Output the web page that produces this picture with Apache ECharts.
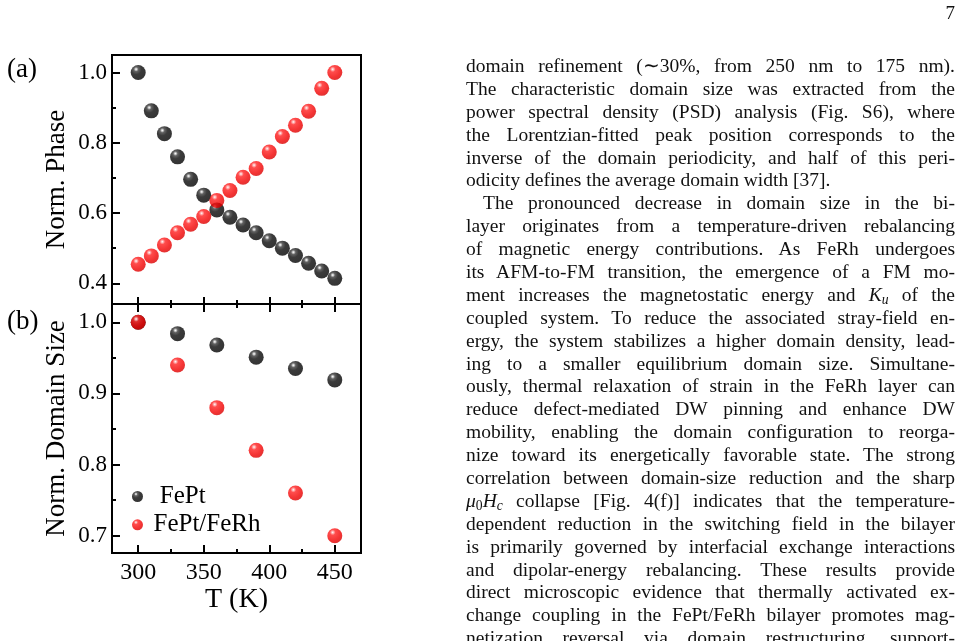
<!DOCTYPE html>
<html>
<head>
<meta charset="utf-8">
<script src="https://cdn.jsdelivr.net/npm/echarts@6.0.0/dist/echarts.min.js"></script>
<style>
  html, body { margin: 0; padding: 0; background: #fff; }
  body { width: 961px; height: 641px; overflow: hidden; position: relative; }
  #chart { position: absolute; left: 0; top: 0; width: 961px; height: 641px; }
  #text {
    position: absolute; left: 466px; top: 55px; width: 489px;
    font-family: 'Liberation Serif', serif; font-size: 19.5px; line-height: 22.9px; color: #111;
  }
  #text .l { height: 22.9px; text-align: justify; text-align-last: justify; white-space: nowrap; }
  #text .l.end { text-align-last: left; }
  #text .l.ind { text-indent: 17px; }
  #text sub { font-size: 0.7em; line-height: 0; vertical-align: -0.25em; }
  #page { position: absolute; right: 6px; top: 2px; font-family: 'Liberation Serif', serif; font-size: 19px; color: #111; }
</style>
</head>
<body>
<div id="chart"></div>
<div id="page">7</div>
<div id="text">
  <div class="l">domain refinement (∼30%, from 250 nm to 175 nm).</div>
  <div class="l">The characteristic domain size was extracted from the</div>
  <div class="l">power spectral density (PSD) analysis (Fig. S6), where</div>
  <div class="l">the Lorentzian-fitted peak position corresponds to the</div>
  <div class="l">inverse of the domain periodicity, and half of this peri-</div>
  <div class="l end">odicity defines the average domain width [37].</div>
  <div class="l ind">The pronounced decrease in domain size in the bi-</div>
  <div class="l">layer originates from a temperature-driven rebalancing</div>
  <div class="l">of magnetic energy contributions. As FeRh undergoes</div>
  <div class="l">its AFM-to-FM transition, the emergence of a FM mo-</div>
  <div class="l">ment increases the magnetostatic energy and <i>K<sub>u</sub></i> of the</div>
  <div class="l">coupled system. To reduce the associated stray-field en-</div>
  <div class="l">ergy, the system stabilizes a higher domain density, lead-</div>
  <div class="l">ing to a smaller equilibrium domain size. Simultane-</div>
  <div class="l">ously, thermal relaxation of strain in the FeRh layer can</div>
  <div class="l">reduce defect-mediated DW pinning and enhance DW</div>
  <div class="l">mobility, enabling the domain configuration to reorga-</div>
  <div class="l">nize toward its energetically favorable state. The strong</div>
  <div class="l">correlation between domain-size reduction and the sharp</div>
  <div class="l"><i>μ</i><sub>0</sub><i>H<sub>c</sub></i> collapse [Fig. 4(f)] indicates that the temperature-</div>
  <div class="l">dependent reduction in the switching field in the bilayer</div>
  <div class="l">is primarily governed by interfacial exchange interactions</div>
  <div class="l">and dipolar-energy rebalancing. These results provide</div>
  <div class="l">direct microscopic evidence that thermally activated ex-</div>
  <div class="l">change coupling in the FePt/FeRh bilayer promotes mag-</div>
  <div class="l">netization reversal via domain restructuring, support-</div>
</div>
<script>
// panel (a): normalized phase vs T
const tempA = [300, 310, 320, 330, 340, 350, 360, 370, 380, 390, 400, 410, 420, 430, 440, 450]
const phaseFePt = [1.0, 0.891, 0.826, 0.760, 0.696, 0.651, 0.609, 0.588, 0.566, 0.544, 0.521, 0.500, 0.479, 0.457, 0.435, 0.414]
const phaseBilayer = [0.454, 0.478, 0.509, 0.544, 0.568, 0.590, 0.636, 0.664, 0.702, 0.727, 0.774, 0.818, 0.850, 0.890, 0.955, 1.0]

// panel (b): normalized domain size vs T
const tempB = [300, 330, 360, 390, 420, 450]
const sizeFePt = [1.0, 0.984, 0.968, 0.951, 0.935, 0.919]
const sizeBilayer = [1.0, 0.940, 0.880, 0.820, 0.760, 0.700]

// ticks
const xMajor = [300, 350, 400, 450]
const xMinor = [325, 375, 425]
const yMajorA = [0.4, 0.6, 0.8, 1.0]
const yMinorA = [0.5, 0.7, 0.9]
const yMajorB = [0.7, 0.8, 0.9, 1.0]
const yMinorB = [0.75, 0.85, 0.95]

const font = 'Liberation Serif'

// glossy ball look: small highlight at upper left
const ball = (stops) => ({
  type: 'radial', x: 0.36, y: 0.28, r: 0.78,
  colorStops: stops.map(s => ({ offset: s[0], color: s[1] }))
})
const blackBall = ball([[0, '#ffffff'], [0.07, '#c8c8c8'], [0.2, '#3a3a3a'], [0.45, '#0a0a0a'], [1, '#000']])
const redBall = ball([[0, '#ffffff'], [0.08, '#ffb0b0'], [0.24, '#ff2020'], [0.7, '#f00000'], [1, '#d40000']])

const hiddenAxisParts = {
  axisLine: { show: false },
  splitLine: { show: false }
}

function xAxisDef(gridIndex, position, ticks, len, withLabel) {
  return Object.assign({
    type: 'value', gridIndex, position, min: 280, max: 470,
    axisTick: { show: true, inside: true, length: len, customValues: ticks, lineStyle: { color: '#000', width: 2 } },
    axisLabel: withLabel
      ? { show: true, customValues: ticks, margin: 8, fontFamily: font, fontSize: 24, color: '#000' }
      : { show: false }
  }, hiddenAxisParts)
}

function yAxisDef(gridIndex, min, max, ticks, len, withLabel, name) {
  return Object.assign({
    type: 'value', gridIndex, position: 'left', min, max,
    name: name || '', nameLocation: 'middle', nameGap: 42,
    nameTextStyle: { fontFamily: font, fontSize: 27, color: '#000' },
    axisTick: { show: true, inside: true, length: len, customValues: ticks, lineStyle: { color: '#000', width: 2 } },
    axisLabel: withLabel
      ? { show: true, customValues: ticks, margin: 5, fontFamily: font, fontSize: 23, color: '#000', formatter: v => v.toFixed(1) }
      : { show: false }
  }, hiddenAxisParts)
}

const chart = echarts.init(document.getElementById('chart'), null, { renderer: 'canvas' })

const xB = xAxisDef(1, 'bottom', xMajor, 8, true)
xB.name = 'T (K)'
xB.nameLocation = 'middle'
xB.nameGap = 32
xB.nameTextStyle = { fontFamily: font, fontSize: 28, color: '#000' }

chart.setOption({
  animation: false,
  backgroundColor: 'transparent',
  grid: [
    { left: 112, top: 55, width: 249, height: 249, show: true, borderColor: '#000', borderWidth: 2 },
    { left: 112, top: 304, width: 249, height: 249, show: true, borderColor: '#000', borderWidth: 2 }
  ],
  xAxis: [
    xAxisDef(0, 'bottom', xMajor, 7, false),
    xAxisDef(0, 'bottom', xMinor, 4, false),
    xAxisDef(1, 'top', xMajor, 8, false),
    xAxisDef(1, 'top', xMinor, 4, false),
    xB,
    xAxisDef(1, 'bottom', xMinor, 4, false)
  ],
  yAxis: [
    yAxisDef(0, 0.341, 1.05, yMajorA, 8, true, 'Norm. Phase'),
    yAxisDef(0, 0.341, 1.05, yMinorA, 4, false),
    yAxisDef(1, 0.6757, 1.0257, yMajorB, 8, true, 'Norm. Domain Size'),
    yAxisDef(1, 0.6757, 1.0257, yMinorB, 4, false)
  ],
  legend: {
    orient: 'vertical', left: 127, top: 479,
    icon: 'circle', itemWidth: 22, itemHeight: 11, itemGap: 3.3,
    data: ['FePt', 'FePt/FeRh'],
    formatter: name => name === 'FePt' ? ' FePt' : name,
    textStyle: { fontFamily: font, fontSize: 25, lineHeight: 25, color: '#000' }
  },
  graphic: [
    { type: 'text', left: 7, top: 56, style: { text: '(a)', fontFamily: font, fontSize: 27, fill: '#000' } },
    { type: 'text', left: 7, top: 308, style: { text: '(b)', fontFamily: font, fontSize: 27, fill: '#000' } }
  ],
  series: [
    {
      name: 'FePt', type: 'scatter', xAxisIndex: 0, yAxisIndex: 0, symbolSize: 15,
      itemStyle: { color: blackBall }, data: tempA.map((t, i) => [t, phaseFePt[i]])
    },
    {
      name: 'FePt/FeRh', type: 'scatter', xAxisIndex: 0, yAxisIndex: 0, symbolSize: 15,
      itemStyle: { color: redBall }, data: tempA.map((t, i) => [t, phaseBilayer[i]])
    },
    {
      name: 'FePt', type: 'scatter', xAxisIndex: 4, yAxisIndex: 2, symbolSize: 15,
      itemStyle: { color: blackBall }, data: tempB.map((t, i) => [t, sizeFePt[i]])
    },
    {
      name: 'FePt/FeRh', type: 'scatter', xAxisIndex: 4, yAxisIndex: 2, symbolSize: 15,
      itemStyle: { color: redBall }, data: tempB.map((t, i) => [t, sizeBilayer[i]])
    }
  ]
})
</script>
</body>
</html>
